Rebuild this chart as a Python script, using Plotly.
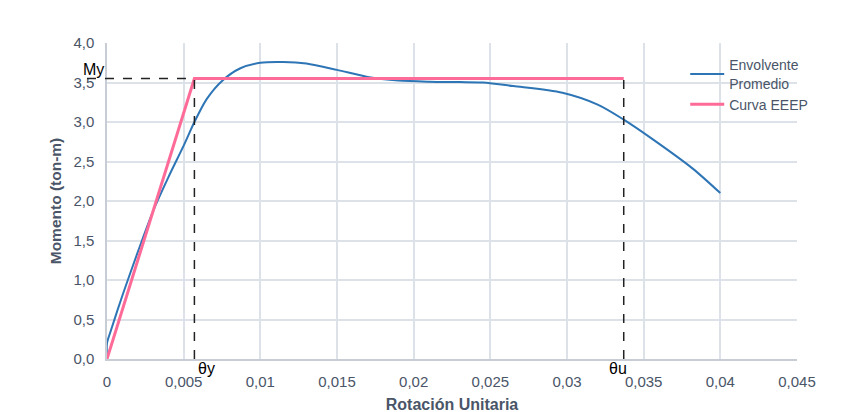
import plotly.graph_objects as go

# Envolvente promedio (rotación unitaria vs momento)
rot_env = [0, 0, 0.0002, 0.001, 0.002, 0.003, 0.004, 0.005, 0.0057, 0.0065,
           0.0075, 0.0087, 0.01, 0.0115, 0.013, 0.015, 0.017, 0.019, 0.021, 0.023,
           0.0245, 0.0265, 0.0297, 0.032, 0.0337, 0.0356, 0.0382, 0.04]
mom_env = [0, 0.2, 0.33, 0.8, 1.35, 1.87, 2.3, 2.7, 3.0, 3.29,
           3.52, 3.68, 3.75, 3.76, 3.74, 3.66, 3.57, 3.525, 3.51, 3.505,
           3.5, 3.455, 3.37, 3.22, 3.03, 2.78, 2.41, 2.1]

# Curva EEEP (elasto-plástica equivalente)
theta_y = 0.0057
theta_u = 0.0337
m_y = 3.55
rot_eeep = [0, theta_y, theta_u]
mom_eeep = [0, m_y, m_y]

x_ticks = [0, 0.005, 0.01, 0.015, 0.02, 0.025, 0.03, 0.035, 0.04, 0.045]
x_labels = ["0", "0,005", "0,01", "0,015", "0,02", "0,025", "0,03", "0,035", "0,04", "0,045"]
y_ticks = [0, 0.5, 1, 1.5, 2, 2.5, 3, 3.5, 4]
y_labels = ["0,0", "0,5", "1,0", "1,5", "2,0", "2,5", "3,0", "3,5", "4,0"]

x_max = 0.045
tick_color = "#4a5568"
grid_color = "#dde1e8"

fig = go.Figure()
fig.add_trace(go.Scatter(x=rot_env, y=mom_env, mode="lines", name="Envolvente<br>Promedio",
                         line=dict(color="#2e75b6", width=2, shape="spline", smoothing=0.8)))
fig.add_trace(go.Scatter(x=rot_eeep, y=mom_eeep, mode="lines", name="Curva EEEP",
                         line=dict(color="#ff6b98", width=3)))

# líneas auxiliares punteadas
dash = dict(color="#222222", width=1.5, dash="dash")
fig.add_shape(type="line", xref="paper", yref="y", x0=-0.029, x1=theta_y / x_max,
              y0=m_y, y1=m_y, line=dash)
fig.add_shape(type="line", xref="x", yref="y", x0=theta_y, x1=theta_y, y0=0, y1=m_y, line=dash)
fig.add_shape(type="line", xref="x", yref="y", x0=theta_u, x1=theta_u, y0=0, y1=m_y, line=dash)

txt = dict(size=16, color="black", family="Liberation Sans, Arial")
fig.add_annotation(text="My", xref="paper", yref="y", x=-0.019, xanchor="center", y=m_y,
                   yshift=9, showarrow=False, font=txt)
fig.add_annotation(text="θy", x=theta_y, y=0, xshift=12, yshift=-9, showarrow=False, font=txt)
fig.add_annotation(text="θu", x=theta_u, y=0, xshift=-6, yshift=-9, showarrow=False, font=txt)

fig.update_layout(
    width=866, height=412,
    margin=dict(l=99, r=77, t=35, b=61),
    plot_bgcolor="white", paper_bgcolor="white",
    font=dict(family="Liberation Sans, Arial", size=15, color=tick_color),
    showlegend=True,
    legend=dict(x=0.838, y=0.98, xanchor="left", yanchor="top", itemwidth=34,
                bgcolor="rgba(0,0,0,0)", font=dict(size=14, color=tick_color),
                tracegroupgap=22),
    xaxis=dict(range=[0, x_max], tickvals=x_ticks, ticktext=x_labels, automargin=False,
               showgrid=True, gridcolor=grid_color, gridwidth=1.5, ticklabelstandoff=8,
               zeroline=False, showline=True, linecolor="#c8ccd4", linewidth=1.5,
               title=dict(text="<b>Rotación Unitaria</b>", font=dict(size=16, color=tick_color),
                          standoff=10)),
    yaxis=dict(range=[0, 4], tickvals=y_ticks, ticktext=y_labels, automargin=False,
               showgrid=True, gridcolor=grid_color, gridwidth=1.5, ticklabelstandoff=8,
               zeroline=False, showline=True, linecolor="#c8ccd4", linewidth=1.5,
               title=dict(text="<b>Momento (ton-m)</b>", font=dict(size=15.5, color=tick_color),
                          standoff=8)),
)

fig.write_html("out.html")
